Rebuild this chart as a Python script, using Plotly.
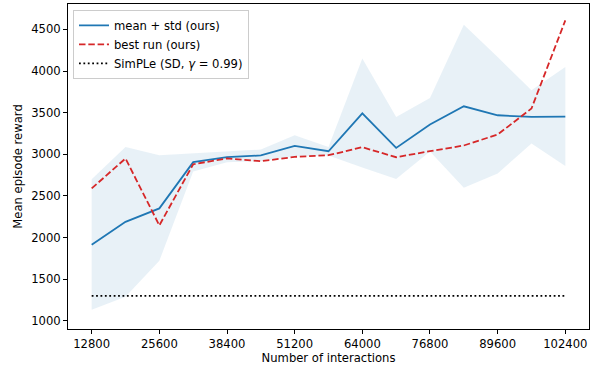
import plotly.graph_objects as go

interactions = [12800, 19200, 25600, 32000, 38400, 44800, 51200, 57600,
                64000, 70400, 76800, 83200, 89600, 96000, 102400]
mean_reward = [1912, 2188, 2349, 2904, 2964, 2985, 3100, 3036,
               3492, 3076, 3357, 3576, 3468, 3448, 3452]
best_run = [2589, 2949, 2145, 2880, 2949, 2916, 2968, 2988,
            3084, 2964, 3036, 3105, 3237, 3549, 4608]
std_upper = [2700, 3088, 2988, 3012, 3028, 3056, 3228, 3088,
             4149, 3448, 3676, 4557, 4168, 3768, 4048]
std_lower = [1130, 1288, 1720, 2792, 2904, 2916, 2972, 2984,
             2840, 2702, 3034, 2596, 2768, 3128, 2858]
simple_baseline = [1297] * len(interactions)

x_ticks = [12800, 25600, 38400, 51200, 64000, 76800, 89600, 102400]
y_ticks = [1000, 1500, 2000, 2500, 3000, 3500, 4000, 4500]

FONT = "DejaVu Sans"
FS = 11.6
BLUE = "#1f77b4"
RED = "#d62728"

fig = go.Figure()

fig.add_trace(go.Scatter(x=interactions, y=std_lower, mode="lines",
                         line=dict(width=0), showlegend=False, hoverinfo="skip"))
fig.add_trace(go.Scatter(x=interactions, y=std_upper, mode="lines",
                         line=dict(width=0), fill="tonexty",
                         fillcolor="rgba(31,119,180,0.1)",
                         showlegend=False, hoverinfo="skip"))
fig.add_trace(go.Scatter(x=interactions, y=mean_reward, mode="lines",
                         name="mean + std (ours)",
                         line=dict(color=BLUE, width=1.8)))
fig.add_trace(go.Scatter(x=interactions, y=best_run, mode="lines",
                         name="best run (ours)",
                         line=dict(color=RED, width=1.8, dash="6.5px,2.8px")))
fig.add_trace(go.Scatter(x=interactions, y=simple_baseline, mode="lines",
                         name="SimPLe (SD, <i>γ</i> = 0.99)",
                         line=dict(color="black", width=1.8, dash="1.8px,2.6px")))

fig.update_layout(
    width=598, height=367,
    margin=dict(l=68, r=9, t=4, b=38, autoexpand=False),
    paper_bgcolor="white", plot_bgcolor="white",
    font=dict(family=FONT, size=FS, color="black"),
    hovermode=False,
    legend=dict(
        x=0.0096, y=0.982, xanchor="left", yanchor="top",
        bgcolor="rgba(255,255,255,0.8)", bordercolor="#cccccc", borderwidth=1,
        font=dict(family=FONT, size=FS), itemwidth=30,
        tracegroupgap=0, traceorder="normal",
    ),
)

fig.update_xaxes(
    range=[8320, 106880], automargin=False,
    tickvals=x_ticks, ticktext=[str(v) for v in x_ticks],
    showgrid=False, zeroline=False,
    showline=True, linecolor="black", linewidth=1, mirror=True,
    ticks="outside", ticklen=4, tickwidth=1, tickcolor="black",
    title=dict(text="Number of interactions", standoff=2,
               font=dict(family=FONT, size=FS)),
)
fig.update_yaxes(
    range=[900, 4805], automargin=False,
    tickvals=y_ticks,
    showgrid=False, zeroline=False,
    showline=True, linecolor="black", linewidth=1, mirror=True,
    ticks="outside", ticklen=4, tickwidth=1, tickcolor="black",
    title=dict(text="Mean episode reward", standoff=6,
               font=dict(family=FONT, size=FS)),
)

fig.write_html(
    "out.html",
    config={"displayModeBar": False, "staticPlot": True},
    post_script="document.body.style.margin='0';document.body.style.overflow='hidden';",
)
